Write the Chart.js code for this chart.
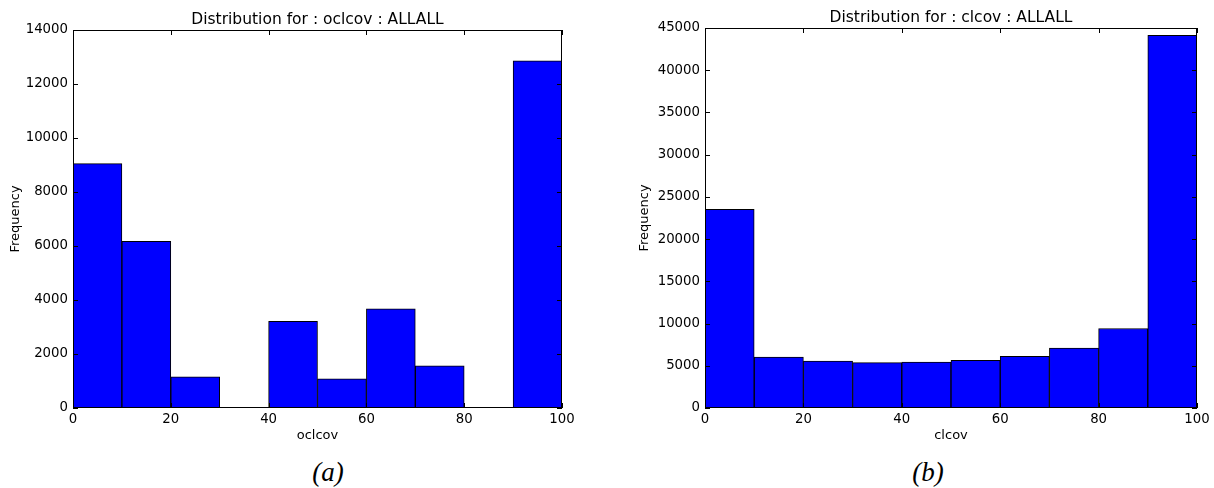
<!DOCTYPE html>
<html lang="en">
  <head>
    <meta charset="UTF-8" />
    <title>Distribution</title>
    <script src="https://cdn.jsdelivr.net/npm/chart.js@4.4.1/dist/chart.umd.min.js"></script>
    <style>
      body { margin: 0; background: #fff; width: 1214px; height: 488px; position: relative; overflow: hidden; }
      .box { position: absolute; top: 0; height: 443px; }
      .cap { position: absolute; top: 457px; font-family: "Liberation Serif", serif; font-style: italic; font-size: 27px; color: #000; width: 80px; text-align: center; }
    </style>
  </head>
  <body>
    <div class="box" style="left:0px;width:600px"><canvas id="aChart"></canvas></div>
    <div class="box" style="left:610px;width:604px"><canvas id="bChart"></canvas></div>
    <div class="cap" style="left:288px">(a)</div>
    <div class="cap" style="left:888px">(b)</div>

    <script>
      // bin centres (bins are 10 wide, 0..100)
      const bin_centers = [5, 15, 25, 35, 45, 55, 65, 75, 85, 95];
      const x_ticks = [0, 20, 40, 60, 80, 100];

      // oclcov histogram
      const oclcov_counts = [9050, 6170, 1150, 0, 3210, 1080, 3670, 1560, 0, 12860];
      const oclcov_yticks = [0, 2000, 4000, 6000, 8000, 10000, 12000, 14000];

      // clcov histogram
      const clcov_counts = [23520, 6040, 5570, 5370, 5450, 5650, 6120, 7100, 9410, 44140];
      const clcov_yticks = [0, 5000, 10000, 15000, 20000, 25000, 30000, 35000, 40000, 45000];

      Chart.defaults.font.family = "'DejaVu Sans', sans-serif";
      Chart.defaults.font.size = 13.3;
      Chart.defaults.color = "#000";

      // matplotlib style frame with inward ticks
      const frameTicks = {
        id: "frameTicks",
        afterDatasetsDraw(chart) {
          const c = chart.ctx;
          const a = chart.chartArea;
          const xs = chart.scales.x, ys = chart.scales.y;
          c.save();
          c.strokeStyle = "#000";
          c.lineWidth = 1;
          c.strokeRect(a.left + 0.5, a.top + 0.5, a.right - a.left - 1, a.bottom - a.top - 1);
          c.beginPath();
          xs.ticks.forEach((t) => {
            const px = Math.round(xs.getPixelForValue(t.value)) + 0.5;
            c.moveTo(px, a.bottom); c.lineTo(px, a.bottom - 5);
            c.moveTo(px, a.top); c.lineTo(px, a.top + 5);
          });
          ys.ticks.forEach((t) => {
            const py = Math.round(ys.getPixelForValue(t.value)) + 0.5;
            c.moveTo(a.left, py); c.lineTo(a.left + 5, py);
            c.moveTo(a.right, py); c.lineTo(a.right - 5, py);
          });
          c.stroke();
          c.restore();
        },
      };

      function makeHist(id, counts, yticks, name, yWidth, padRight, titleTop, freqPad) {
        const ymax = yticks[yticks.length - 1];
        return new Chart(document.getElementById(id), {
          type: "bar",
          data: {
            datasets: [
              {
                data: bin_centers.map((x, i) => ({ x: x, y: counts[i] })),
                backgroundColor: "#0000ff",
                borderColor: "#000",
                borderWidth: 1,
                barPercentage: 1,
                categoryPercentage: 1,
              },
            ],
          },
          options: {
            responsive: true,
            maintainAspectRatio: false,
            animation: false,
            layout: { padding: { left: 0, right: padRight, top: 0, bottom: 0 } },
            plugins: {
              legend: { display: false },
              tooltip: { enabled: false },
              title: {
                display: true,
                text: "Distribution for : " + name + " : ALLALL",
                fullSize: false,
                font: { size: 15.5, weight: "normal" },
                padding: { top: titleTop, bottom: 0.4 },
              },
            },
            scales: {
              x: {
                type: "linear",
                offset: false,
                min: 0,
                max: 100,
                grid: { display: false, drawTicks: false },
                border: { display: false },
                afterBuildTicks: (s) => { s.ticks = x_ticks.map((v) => ({ value: v })); },
                ticks: { padding: 4, callback: (v) => String(v) },
                title: { display: true, text: name, font: { size: 13 }, padding: { top: 0, bottom: 0 } },
                afterFit: (s) => { s.height = 35; },
              },
              y: {
                min: 0,
                max: ymax,
                grid: { display: false, drawTicks: false },
                border: { display: false },
                afterBuildTicks: (s) => { s.ticks = yticks.map((v) => ({ value: v })); },
                ticks: { padding: 5, callback: (v) => String(v) },
                title: { display: true, text: "Frequency", font: { size: 13 }, padding: { top: freqPad, bottom: 0 } },
                afterFit: (s) => { s.width = yWidth; },
              },
            },
          },
          plugins: [frameTicks],
        });
      }

      makeHist("aChart", oclcov_counts, oclcov_yticks, "oclcov", 73, 38, 11, 8);
      makeHist("bChart", clcov_counts, clcov_yticks, "clcov", 95, 17, 9, 27);
    </script>
  </body>
</html>
